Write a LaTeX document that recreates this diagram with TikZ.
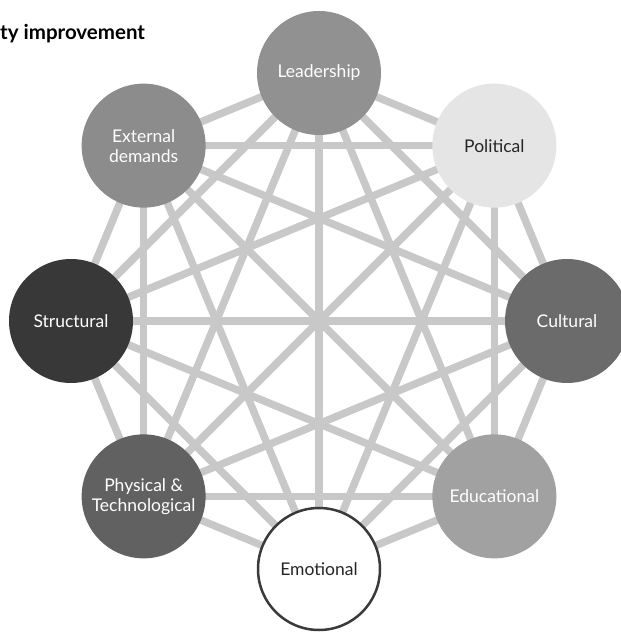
\documentclass[tikz,border=0pt]{standalone}
\usepackage{fontspec}
\setmainfont{Lato}
\usetikzlibrary{positioning,backgrounds,calc}

\definecolor{linkgray}{HTML}{C8C8C8}
\definecolor{edgedark}{HTML}{3A3A3A}

\begin{document}
\begin{tikzpicture}[
    x=1pt, y=1pt,
    factor/.style={circle, minimum size=124pt, inner sep=0pt, align=center, font=\fontsize{17.5}{20}\selectfont, text=white},
    link/.style={line width=7.5pt, draw=linkgray}
]
    \useasboundingbox (0,0) rectangle (621,632);

    % Title
    \node[anchor=base west, inner sep=0pt, font=\fontsize{20.5}{22}\selectfont\bfseries] (title) at (0,592) {ty improvement};

    % Centre of the ring
    \coordinate (hub) at (319,311);

    % Factors
    \node[factor, fill=black!43] (leadership) at ($(hub)+(90:248)$) {Leadership};
    \node[factor, fill=black!10, text=black!85] (political) at ($(hub)+(45:248)$) {Political};
    \node[factor, fill=black!58] (cultural) at ($(hub)+(0:248)$) {Cultural};
    \node[factor, fill=black!37] (educational) at ($(hub)+(-45:248)$) {Educational};
    \node[factor, fill=white, draw=edgedark, line width=2.5pt, minimum size=122pt, text=black!85] (emotional) at ($(hub)+(-90:248)$) {Emotional};
    \node[factor, fill=black!62] (physical) at ($(hub)+(-135:248)$) {Physical \&\\Technological};
    \node[factor, fill=black!78] (structural) at ($(hub)+(180:248)$) {Structural};
    \node[factor, fill=black!45] (external) at ($(hub)+(135:248)$) {External\\demands};

    % Links between every pair
    \begin{pgfonlayer}{background}
    \foreach \a/\rest in {leadership/{political,cultural,educational,emotional,physical,structural,external},
                          political/{cultural,educational,emotional,physical,structural,external},
                          cultural/{educational,emotional,physical,structural,external},
                          educational/{emotional,physical,structural,external},
                          emotional/{physical,structural,external},
                          physical/{structural,external},
                          structural/{external}}
        \foreach \b in \rest
            \draw[link] (\a.center) -- (\b.center);
    \end{pgfonlayer}
\end{tikzpicture}
\end{document}
